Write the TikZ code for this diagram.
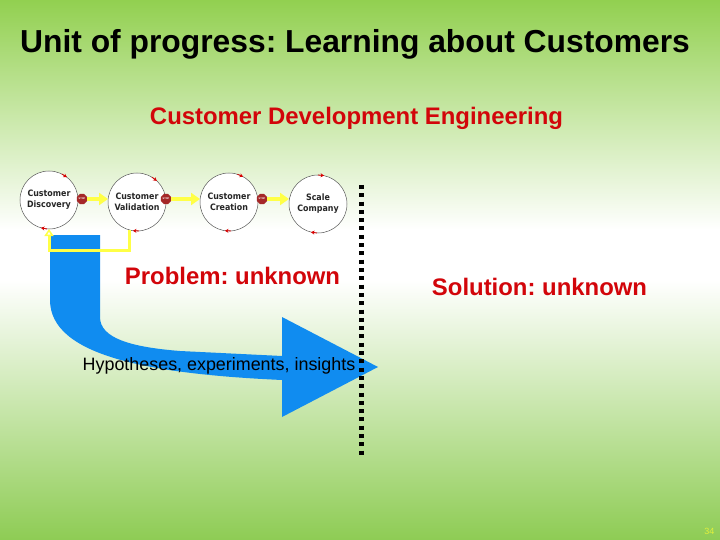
\documentclass[tikz,border=0pt]{standalone}
\usepackage{fontspec}
\setmainfont{Liberation Sans}
\newfontfamily\circfont{DejaVu Sans Condensed}
\usetikzlibrary{shapes.geometric,arrows.meta,calc}
\definecolor{bggreen}{RGB}{146,208,80}
\definecolor{bggreenb}{RGB}{142,204,84}
\definecolor{tred}{RGB}{210,5,10}
\definecolor{arrowblue}{RGB}{16,140,240}
\definecolor{loopyellow}{RGB}{255,255,70}
\definecolor{stopred}{RGB}{165,40,40}
\definecolor{pagenum}{RGB}{225,240,60}
\frenchspacing
\begin{document}
\begin{tikzpicture}[x=1pt,y=-1pt,
  stage/.style={circle,draw=black!65,line width=0.5pt,fill=white,minimum size=58pt,inner sep=0pt,outer sep=0pt,
    font=\circfont\bfseries\fontsize{8.8}{11}\selectfont,text=black!85,align=center},
  stopsign/.style={regular polygon,regular polygon sides=8,fill=stopred,minimum size=11pt,inner sep=0pt,outer sep=0pt,
    text=white,font=\fontsize{2.5}{3}\selectfont\bfseries},
  flow/.style={loopyellow,line width=4pt,-{Triangle[length=9pt,width=12pt]}},
  cmark/.style={red!85!black,line width=0.8pt,-{Stealth[length=3.5pt,width=4pt]}},
  loopline/.style={loopyellow,line width=3pt,-{Triangle[open,length=7pt,width=9pt,line width=1.5pt]}},
  dotline/.style={black,line width=5pt,dash pattern=on 4pt off 4.3pt},
  ttl/.style={anchor=base,font=\bfseries\fontsize{31.8}{36}\selectfont},
  redtxt/.style={anchor=base,text=tred,font=\bfseries\fontsize{23.9}{28}\selectfont},
]
\useasboundingbox (0,0) rectangle (720,540);
% background
\shade[top color=bggreen,bottom color=white] (0,0) rectangle (720,230);
\fill[white] (0,229) rectangle (720,281);
\shade[top color=white,bottom color=bggreenb] (0,280) rectangle (720,540);

% blue curved arrow
\fill[arrowblue] (50,235) -- (100,235) -- (100,317)
  .. controls (100,338) and (130,347) .. (180,351) -- (282,356) -- (282,317)
  -- (378,367) -- (282,417) -- (282,380)
  .. controls (150,374) and (50,356) .. (50,300) -- cycle;

% dotted separator
\coordinate (dtop) at (361.5,185);
\coordinate (dbot) at (361.5,455);
\draw[dotline] (dtop) -- (dbot);

% stages
\node[stage] (c1) at (49,200) {Customer\\Discovery};
\node[stage] (c2) at (137,202) {Customer\\Validation};
\node[stage] (c3) at (229,202) {Customer\\Creation};
\node[stage] (c4) at (318,204) {Scale\\Company};

\foreach \n/\a in {c1/56,c1/258,c2/51,c2/266,c3/65,c3/266,c4/82,c4/260}
  \draw[cmark] ($(\n)!1!8:(\n.\a)$) -- ($(\n)!1!-4:(\n.\a)$);

\node[stopsign] (s1) at (82,199) {STOP};
\node[stopsign] (s2) at (166,199) {STOP};
\node[stopsign] (s3) at (262,199) {STOP};

\draw[flow] (s1.east) -- (s1.east -| c2.west);
\draw[flow] (s2.east) -- (s2.east -| c3.west);
\draw[flow] (s3.east) -- (s3.east -| c4.west);

% feedback loop
\draw[loopline] (c2.-105) |- ($(c1.south)+(0,21)$) -- (c1.south);

% texts
\node[ttl] (title) at (355,52.5) {Unit of progress: Learning about Customers};
\node[redtxt] (sub) at (356.5,125) {Customer Development Engineering};
\node[redtxt] (prob) at (232.5,284) {Problem: unknown};
\node[redtxt] (sol) at (539.5,295) {Solution: unknown};
\node[anchor=base,font=\fontsize{17.9}{20}\selectfont] (hyp) at (219,370) {Hypotheses, experiments, insights};
\node[anchor=base east,text=pagenum,font=\fontsize{9}{10}\selectfont] (pg) at (718,534) {34};
\end{tikzpicture}
\end{document}
